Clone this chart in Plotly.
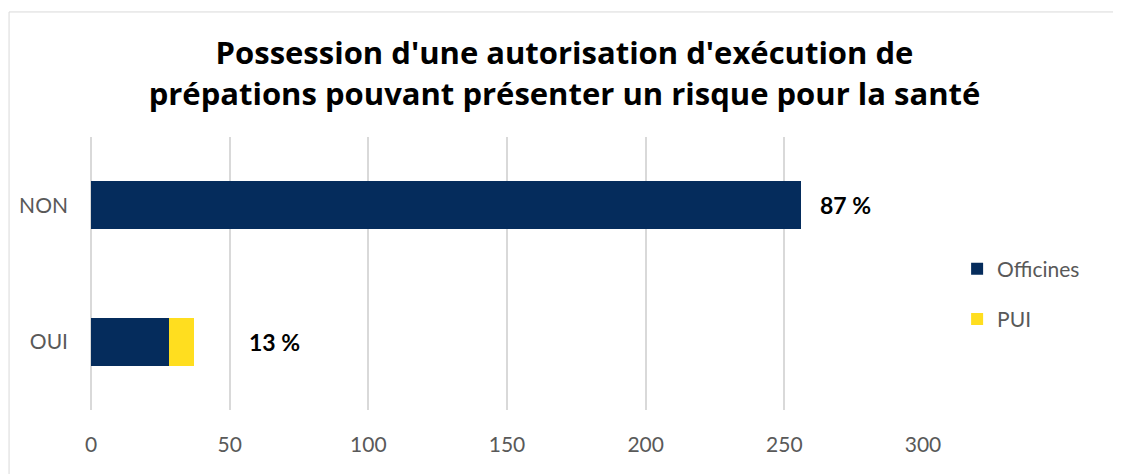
import plotly.graph_objects as go

# data
categories = ["OUI", "NON"]
officines = [28, 256]
pui = [9, 0]
pct_labels = ["13 %", "87 %"]
pct_x = [66, 272]

NAVY = "#052C5C"
YELLOW = "#FFDE1F"
GREY_TXT = "#595959"
FONT = "Lato, 'Open Sans', sans-serif"

fig = go.Figure()
fig.add_trace(go.Bar(y=categories, x=officines, name="Officines", orientation="h",
                     marker=dict(color=NAVY, line=dict(width=0)), legendgroup="a"))
fig.add_trace(go.Bar(y=categories, x=pui, name="PUI", orientation="h",
                     marker=dict(color=YELLOW, line=dict(width=0)), legendgroup="b"))

for cat, lab, xv in zip(categories, pct_labels, pct_x):
    fig.add_annotation(x=xv, y=cat, text="<b>" + lab + "</b>", showarrow=False,
                       font=dict(family=FONT, size=23, color="black"))

# light border around the chart area
fig.add_shape(type="rect", xref="paper", yref="paper",
              x0=-0.0985, x1=1.3, y0=-0.4, y1=1.458,
              line=dict(color="#D9D9D9", width=1))

# page body has an 8px margin, so the figure is sized a bit smaller
fig.update_layout(
    width=1113, height=466,
    margin=dict(l=83, r=198, t=129, b=64),
    barmode="stack", bargap=0.65,
    paper_bgcolor="white", plot_bgcolor="white",
    font=dict(family=FONT, color=GREY_TXT, size=21),
    title=dict(text="<b>Possession d'une autorisation d'exécution de<br>prépations pouvant présenter un risque pour la santé</b>",
               x=0.5, xanchor="center", y=0.879, yanchor="middle", yref="container",
               font=dict(family="'Open Sans', sans-serif", size=31, color="black")),
    legend=dict(x=1.041, xanchor="left", y=0.425, yanchor="middle",
                tracegroupgap=20, font=dict(size=21, color=GREY_TXT),
                traceorder="grouped"),
    xaxis=dict(range=[0, 300], dtick=50, showgrid=True, gridcolor="#D9D9D9", gridwidth=1.5,
               zeroline=True, zerolinecolor="#D9D9D9", zerolinewidth=1.5,
               showline=False, ticklabelstandoff=20, tickfont=dict(size=21, color=GREY_TXT)),
    yaxis=dict(categoryorder="array", categoryarray=categories, showgrid=False,
               showline=False, zeroline=False, ticklabelstandoff=22,
               tickfont=dict(size=21, color=GREY_TXT)),
)

fig.write_html("out.html")
